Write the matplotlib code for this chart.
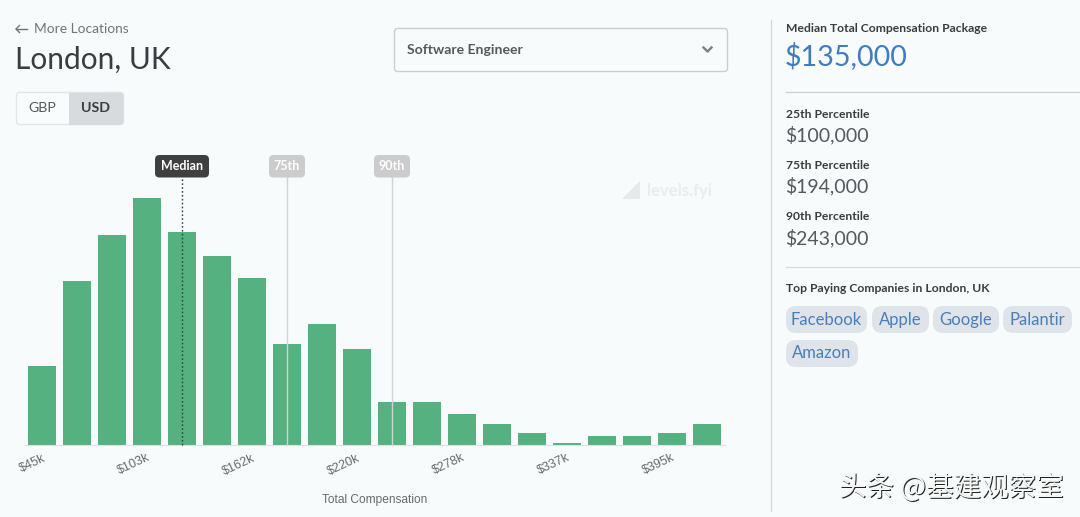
import matplotlib
matplotlib.use("Agg")
import matplotlib.pyplot as plt
from matplotlib.patches import FancyBboxPatch, Polygon, Rectangle

# ---- data ----
bin_positions = list(range(20))
bar_heights = [79, 164, 210, 247, 213, 189, 167, 101, 121, 96, 43, 43, 31, 21, 12, 2, 9, 9, 12, 21]
tick_positions = [0, 3, 6, 9, 12, 15, 18]
tick_labels = ["$45k", "$103k", "$162k", "$220k", "$278k", "$337k", "$395k"]
marker_names = ["Median", "75th", "90th"]
marker_positions = [4, 7, 10]
percentile_names = ["25th Percentile", "75th Percentile", "90th Percentile"]
percentile_values = ["$100,000", "$194,000", "$243,000"]
companies_row1 = ["Facebook", "Apple", "Google", "Palantir"]
companies_row2 = ["Amazon"]

W, H = 1080, 517
BG = "#F7FBFC"
GREEN = "#55B17F"
DARK = "#3A3D40"
MID = "#55595E"
BLUE = "#3F7CC4"
UI = "Lato"
CHART = "Liberation Sans"

fig = plt.figure(figsize=(W / 100, H / 100), dpi=100, facecolor=BG)

# ---- chart axes: x in bin units, y in relative counts ----
L, R, T, B = 24.5, 724.5, 198, 445
ax = fig.add_axes([L / W, 1 - B / H, (R - L) / W, (B - T) / H], facecolor="none")
ax.bar(bin_positions, bar_heights, width=0.81, color=GREEN, linewidth=0, zorder=2)
ax.set_xlim(-0.5, 19.5)
ax.set_ylim(0, 247)
for s in ["top", "left", "right"]:
    ax.spines[s].set_visible(False)
ax.spines["bottom"].set_color("#DDE3E4")
ax.spines["bottom"].set_linewidth(0.8)
ax.set_yticks([])
ax.set_xticks(tick_positions)
ax.set_xticklabels(tick_labels, rotation=25, ha="right", rotation_mode="anchor",
                   fontsize=9, color="#666A6E", family=CHART)
ax.tick_params(axis="x", length=0, pad=5)

# marker lines reach the badges above the plotted range
top_y = 247 * (B - 177) / (B - T)
for name, pos in zip(marker_names, marker_positions):
    median = name == "Median"
    ax.plot([pos, pos], [0, top_y], clip_on=False, zorder=3,
            color="#3A3D40" if median else "#CFD3D4",
            lw=1.0, ls=(0, (1.2, 1.6)) if median else "-")

# ---- page furniture in pixel coordinates ----
ui = fig.add_axes([0, 0, 1, 1], facecolor="none")
ui.set_xlim(0, W)
ui.set_ylim(H, 0)
ui.axis("off")


def box(x, y, w, h, fc, ec="none", r=4, lw=1.0, z=3):
    ui.add_patch(FancyBboxPatch((x + r, y + r), w - 2 * r, h - 2 * r,
                                boxstyle=f"round,pad={r},rounding_size={r}",
                                fc=fc, ec=ec, lw=lw, zorder=z))


def text(x, y, s, size, color=DARK, weight="normal", ha="left", family=UI, z=5, va="center"):
    ui.text(x, y, s, fontsize=size, color=color, fontweight=weight, ha=ha, va=va,
            family=family, zorder=z)


# header
ui.plot([16, 27], [29, 29], color="#707478", lw=1.0)
ui.plot([19.5, 16, 19.5], [25.5, 29, 32.5], color="#707478", lw=1.0)
text(34, 29, "More Locations", 9.9, "#707478")
text(15, 60, "London, UK", 21.5, DARK)

# currency toggle
box(16.5, 92.5, 107, 32, "#F9FCFD", "#E2E6E8", r=3)
ui.add_patch(Rectangle((68.5, 92.5), 52, 32, fc="#D7DBDE", ec="none", zorder=3.1))
box(100, 92.5, 23.5, 32, "#D7DBDE", r=3, z=3.05)
text(42.5, 108, "GBP", 10.2, MID, ha="center")
text(95.5, 108, "USD", 10.2, DARK, "bold", ha="center")

# dropdown
box(394.5, 28.5, 333, 43, "#F8FBFC", "#C9CED1", r=3)
text(407, 49.5, "Software Engineer", 10.1, MID, "bold")
ui.plot([703.5, 707.5, 711.5], [47.5, 51.5, 47.5], color="#7C8084", lw=1.7, zorder=5)

# percentile badges
badge_w = [54, 36, 36]
for name, pos, bw in zip(marker_names, marker_positions, badge_w):
    cx = L + (pos + 0.5) * (R - L) / 20
    median = name == "Median"
    box(cx - bw / 2, 155, bw, 22.5, "#3F3F3F" if median else "#CCCCCC", r=4.5, z=6)
    text(cx, 166.5, name, 9, "white", "bold", ha="center", z=7)

# watermark
ui.add_patch(Polygon([(622, 199), (640, 199), (640, 181)], closed=True, fc="#E6EAEB", ec="none"))
text(647, 191, "levels.fyi", 12, "#E9EDEE", "bold")

ui.text(375, 500, "Total Compensation", fontsize=8.6, color="#666A6E", ha="center", va="center", family=CHART)

# right panel
ui.plot([770.5, 770.5], [20, 511], color="#D5D9DB", lw=1.0)
ui.plot([786, 1080], [91.5, 91.5], color="#CFD4D6", lw=1.0)
ui.plot([786, 1080], [266.5, 266.5], color="#D9DDDF", lw=1.0)
text(785.5, 28, "Median Total Compensation Package", 8.7, DARK, "bold")
text(785, 56, "$135,000", 20.7, BLUE)
for label, value, y in zip(percentile_names, percentile_values, [114.5, 165.5, 217]):
    text(785.5, y, label, 8.7, DARK, "bold")
    text(785, y + 21, value, 14, MID)
text(785.5, 289, "Top Paying Companies in London, UK", 8.7, DARK, "bold")

# company pills
row1_x = [(786, 81), (872, 57), (933, 66), (1003, 69)]
for name, (x, w) in zip(companies_row1, row1_x):
    box(x, 306, w, 27, "#DFE4EA", r=10)
    text(x + w / 2, 325, name, 12, "#4A7FB5", ha="center", va="baseline")
for name, (x, w) in zip(companies_row2, [(786, 72)]):
    box(x, 340, w, 27, "#DFE4EA", r=10)
    text(x + w / 2, 358.5, name, 12, "#4A7FB5", ha="center", va="baseline")

# source overlay
ui.text(1065, 489, "头条 @基建观察室", fontsize=19.8, color="#222222", ha="right", va="center",
        family=["Noto Sans CJK SC", "DejaVu Sans"], zorder=5)
ui.text(1064, 488, "头条 @基建观察室", fontsize=19.8, color="#F4F6F6", ha="right", va="center",
        family=["Noto Sans CJK SC", "DejaVu Sans"], zorder=6)

fig.savefig("out.png", dpi=100, facecolor=BG)
